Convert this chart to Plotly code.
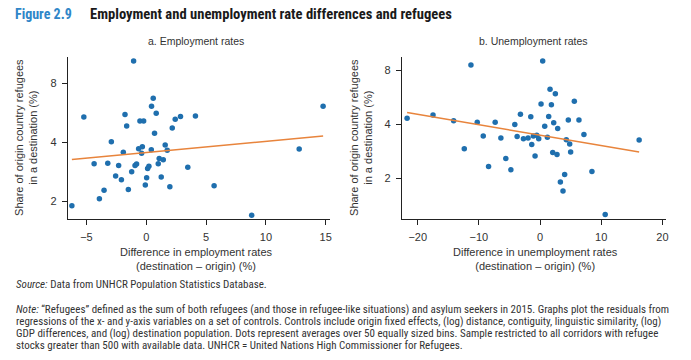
import plotly.graph_objects as go

# ---- Data ----
emp_x = [-6.22, -5.22, -4.36, -3.92, -3.53, -3.22, -2.92, -2.56, -2.31, -2.08, -1.92, -1.78,
         -1.64, -1.50, -1.22, -1.06, -0.94, -0.81, -0.64, -0.53, -0.39, -0.33, -0.22, -0.08,
         0.03, 0.11, 0.22, 0.42, 0.44, 0.58, 0.69, 0.83, 1.00, 1.08, 1.25, 1.42, 1.58, 1.75,
         1.97, 2.17, 2.42, 2.86, 3.47, 4.11, 5.67, 8.81, 12.78, 14.78]
emp_y = [1.90, 5.39, 3.11, 2.06, 2.28, 3.13, 4.03, 2.69, 3.05, 2.58, 3.56, 5.54,
         4.85, 2.30, 2.83, 10.4, 3.05, 3.10, 3.71, 5.14, 3.52, 3.80, 5.14, 2.42,
         2.64, 2.94, 3.02, 3.67, 6.11, 6.71, 4.45, 5.63, 3.11, 3.31, 2.66, 3.26, 3.88, 3.64,
         2.37, 4.73, 5.24, 5.41, 2.98, 5.45, 2.40, 1.70, 3.70, 6.11]
emp_fit_x = [-6.22, 14.78]
emp_fit_y = [3.27, 4.31]

unemp_x = [-21.74, -17.50, -14.13, -12.39, -11.30, -10.27, -9.29, -8.42, -7.34, -6.41, -5.60, -4.78,
           -4.13, -3.75, -3.21, -2.72, -1.96, -1.52, -1.36, -1.09, -0.82, -0.54, -0.22, 0.16,
           0.43, 0.76, 1.20, 1.41, 1.63, 1.85, 2.07, 2.23, 2.50, 2.77, 2.88, 3.32, 3.75, 4.02,
           4.29, 4.62, 4.84, 5.00, 5.60, 6.36, 7.17, 8.48, 10.65, 16.20]
unemp_y = [4.31, 4.50, 4.18, 2.92, 8.53, 4.10, 3.44, 2.33, 4.10, 3.35, 2.58, 2.23,
           3.98, 3.42, 4.54, 3.32, 3.35, 4.40, 3.08, 3.44, 2.66, 3.47, 3.32, 5.18,
           8.98, 3.89, 3.38, 4.42, 6.25, 5.13, 2.78, 4.08, 5.91, 2.71, 3.78, 1.91, 1.70, 2.10,
           3.28, 4.22, 3.10, 2.80, 5.36, 4.22, 3.50, 2.18, 1.26, 3.27]
unemp_fit_x = [-21.74, 16.20]
unemp_fit_y = [4.65, 2.80]

emp_ticks = [-5, 0, 5, 10, 15]
unemp_ticks = [-20, -10, 0, 10, 20]
y_ticks = [2, 4, 8]

def lab(v):
    return ("\u2212" + str(abs(v))) if v < 0 else str(v)

W, H = 691, 360
BLUE = "#1f6fae"
ORANGE = "#e8843c"
TXT = "#333333"
FONT = "Liberation Sans, Arial, sans-serif"
NARROW = "Roboto Condensed, Liberation Sans, sans-serif"

fig = go.Figure()
fig.add_trace(go.Scatter(x=emp_x, y=emp_y, mode="markers", xaxis="x", yaxis="y",
                         marker=dict(color=BLUE, size=5.5), showlegend=False))
fig.add_trace(go.Scatter(x=emp_fit_x, y=emp_fit_y, mode="lines", xaxis="x", yaxis="y",
                         line=dict(color=ORANGE, width=1.5), showlegend=False))
fig.add_trace(go.Scatter(x=unemp_x, y=unemp_y, mode="markers", xaxis="x2", yaxis="y2",
                         marker=dict(color=BLUE, size=5.5), showlegend=False))
fig.add_trace(go.Scatter(x=unemp_fit_x, y=unemp_fit_y, mode="lines", xaxis="x2", yaxis="y2",
                         line=dict(color=ORANGE, width=1.5), showlegend=False))

def px(x):
    return x / W

def py(y):
    return 1 - y / H

ydom = [py(219), py(57)]
axis_common = dict(showgrid=False, zeroline=False, showline=True, linecolor="#222222",
                   linewidth=1, ticks="outside", ticklen=5, tickcolor="#222222",
                   ticklabelstandoff=3,
                   tickfont=dict(family=FONT, size=11, color=TXT))

fig.update_layout(
    width=W, height=H, margin=dict(l=0, r=0, t=0, b=0),
    paper_bgcolor="white", plot_bgcolor="white",
    xaxis=dict(domain=[px(68), px(331)], range=[-6.56, 15.36], anchor="y",
               tickvals=emp_ticks, ticktext=[lab(v) for v in emp_ticks], **axis_common),
    yaxis=dict(domain=ydom, type="log", range=[0.2107, 1.0374], anchor="x",
               tickvals=y_ticks, ticktext=[str(v) for v in y_ticks], **axis_common),
    xaxis2=dict(domain=[px(403), px(668)], range=[-22.6, 20.6], anchor="y2",
                tickvals=unemp_ticks, ticktext=[lab(v) for v in unemp_ticks], **axis_common),
    yaxis2=dict(domain=ydom, type="log", range=[0.0751, 0.9754], anchor="x2",
                tickvals=y_ticks, ticktext=[str(v) for v in y_ticks], **axis_common),
)

ann = []
def add(text, x, y, size=11, font=FONT, color=TXT, xanchor="center", yanchor="middle", angle=0):
    ann.append(dict(text=text, x=px(x), y=py(y), xref="paper", yref="paper", showarrow=False,
                    xanchor=xanchor, yanchor=yanchor, textangle=angle,
                    font=dict(family=font, size=size, color=color)))

add("<b>Figure 2.9</b>", 13, 14, size=14, font=NARROW, color="#2f86c8", xanchor="left")
add("<b>Employment and unemployment rate differences and refugees</b>", 88, 14, size=14.6,
    font=NARROW, color="#1a1a1a", xanchor="left")
add("a. Employment rates", 197, 41, size=10.5)
add("b. Unemployment rates", 535, 41, size=10.5)
ytitle = "Share of origin country refugees<br>in a destination (%)"
add(ytitle, 26, 137, size=11, angle=-90)
add(ytitle, 362, 137, size=11, angle=-90)
add("Difference in employment rates<br>(destination \u2013 origin) (%)", 197, 259, size=11)
add("Difference in unemployment rates<br>(destination \u2013 origin) (%)", 537, 259, size=11)

add("<i>Source:</i> Data from UNHCR Population Statistics Database.", 14, 284, size=11,
    font=NARROW, xanchor="left")
notes = [
    "<i>Note:</i> \u201cRefugees\u201d defined as the sum of both refugees (and those in refugee-like situations) and asylum seekers in 2015. Graphs plot the residuals from",
    "regressions of the x- and y-axis variables on a set of controls. Controls include origin fixed effects, (log) distance, contiguity, linguistic similarity, (log)",
    "GDP differences, and (log) destination population. Dots represent averages over 50 equally sized bins. Sample restricted to all corridors with refugee",
    "stocks greater than 500 with available data. UNHCR = United Nations High Commissioner for Refugees.",
]
for i, t in enumerate(notes):
    add(t, 14, 309 + i * 12, size=11, font=NARROW, xanchor="left")

fig.update_layout(annotations=ann)
fig.write_html("out.html", config={"displayModeBar": False},
               post_script="document.body.style.margin='0px';")
